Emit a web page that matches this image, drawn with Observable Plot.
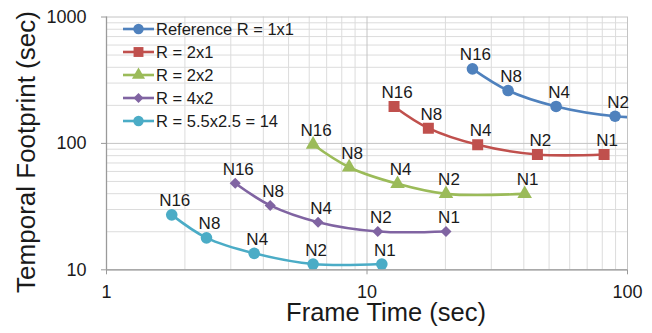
<!DOCTYPE html>
<html><head><meta charset="utf-8">
<script src="https://cdn.jsdelivr.net/npm/d3@7"></script>
<script src="https://cdn.jsdelivr.net/npm/@observablehq/plot@0.6"></script>
<style>body{margin:0;background:#fff;font-family:"Liberation Sans",Arial,sans-serif}</style>
</head><body><div id="chart"></div>
<script>
const seriesNames = ["Reference R = 1x1", "R = 2x1", "R = 2x2", "R = 4x2", "R = 5.5x2.5 = 14"];
const pointLabels = ["N16", "N8", "N4", "N2", "N1"];
const frameTime = [
  [25.4, 34.8, 53.2, 89.6, 160],
  [12.7, 17.2, 26.6, 45.1, 81.3],
  [6.21, 8.54, 13.1, 20.1, 40.3],
  [3.12, 4.25, 6.49, 11.0, 20.1],
  [1.78, 2.42, 3.69, 6.21, 11.4]
];
const footprint = [
  [389, 262, 196, 164, 158],
  [196, 132, 97.5, 81.7, 81.7],
  [98, 64.8, 47.9, 39.9, 39.9],
  [48.4, 32.3, 23.8, 20.1, 20.1],
  [27.2, 17.9, 13.5, 11.1, 11.1]
];
const xTicks = [1, 10, 100];
const yTicks = [10, 100, 1000];
const colors = ["#4F81BD", "#C0504D", "#9BBB59", "#8064A2", "#4BACC6"];
const symbols = ["circle", "square", "triangle", "diamond2", "circle"];
const sizes = [5.8, 6.2, 5.4, 5.0, 5.8];

const minorOf = (ticks) => ticks.slice(0, -1).flatMap(d => d3.range(2, 10).map(k => k * d));
const xMinor = minorOf(xTicks);
const yMinor = minorOf(yTicks);

const tables = seriesNames.map((name, i) =>
  pointLabels.map((lab, j) => ({series: name, label: lab, x: frameTime[i][j], y: footprint[i][j]}))
);
const xMax = xTicks[xTicks.length - 1];

const ink = "#1a1a1a";
const marks = [
  Plot.ruleX(xMinor, {stroke: "#dcdcdc", strokeWidth: 1}),
  Plot.ruleY(yMinor, {stroke: "#dcdcdc", strokeWidth: 1}),
  Plot.ruleX(xTicks, {stroke: "#c4c4c4", strokeWidth: 1}),
  Plot.ruleY(yTicks, {stroke: "#c4c4c4", strokeWidth: 1}),
  Plot.ruleY([yTicks[0]], {stroke: "#9a9a9a", strokeWidth: 1.3}),
  Plot.ruleX([xTicks[0]], {stroke: "#9a9a9a", strokeWidth: 1.3}),
  Plot.axisX({ticks: xTicks, tickSize: 5, tickPadding: 10, fontSize: 18, tickFormat: d => String(d), stroke: "#9a9a9a", fill: ink, label: null}),
  Plot.axisY({ticks: yTicks, tickSize: 5, tickPadding: 15, fontSize: 18, tickFormat: d => String(d), stroke: "#9a9a9a", fill: ink, label: null}),
  Plot.text(["Frame Time (sec)"], {frameAnchor: "bottom", textAnchor: "middle", dx: 19, dy: 51, fontSize: 25.5, fill: ink}),
  Plot.text(["Temporal Footprint (sec)"], {frameAnchor: "left", textAnchor: "middle", rotate: -90, dx: -80, dy: 8.6, fontSize: 26, fill: ink})
];
tables.forEach((t, i) => {
  marks.push(Plot.line(t, {x: "x", y: "y", stroke: colors[i], strokeWidth: 2.6, curve: "catmull-rom", clip: true}));
  marks.push(Plot.dot(t, {x: "x", y: "y", fill: colors[i], stroke: "none", symbol: symbols[i], r: sizes[i], clip: true}));
  marks.push(Plot.text(t.filter(d => d.x <= xMax), {x: "x", y: "y", text: "label", dx: 3, dy: -14, fontSize: 17, fill: ink}));
});

const chart = Plot.plot({
  width: 652,
  height: 333,
  marginLeft: 106,
  marginRight: 25,
  marginTop: 16.5,
  marginBottom: 63.7,
  style: {fontFamily: '"Liberation Sans", Arial, sans-serif', background: "#fff", overflow: "visible"},
  x: {type: "log", domain: [1, 100]},
  y: {type: "log", domain: [10, 1000]},
  marks
});
document.getElementById("chart").appendChild(chart);

// legend
const svg = d3.select(chart);
const lg = svg.append("g").attr("transform", "translate(123,29)").attr("text-anchor", "start");
const symGen = {
  circle: d3.symbolCircle, square: d3.symbolSquare, triangle: d3.symbolTriangle,
  diamond2: d3.symbolDiamond2 || d3.symbolSquare
};
seriesNames.forEach((name, i) => {
  const g = lg.append("g").attr("transform", `translate(0,${i * 23})`);
  g.append("line").attr("x1", 0).attr("x2", 31).attr("y1", 0).attr("y2", 0)
    .attr("stroke", colors[i]).attr("stroke-width", 2.6);
  g.append("path").attr("transform", "translate(15.5,0)")
    .attr("d", d3.symbol(symGen[symbols[i]], Math.PI * Math.pow(sizes[i] * 0.9, 2))())
    .attr("fill", colors[i]);
  g.append("text").attr("x", 33).attr("y", 0).attr("dy", "0.35em").attr("text-anchor", "start")
    .attr("font-size", 16.5).attr("fill", ink).text(name);
});
</script></body></html>
